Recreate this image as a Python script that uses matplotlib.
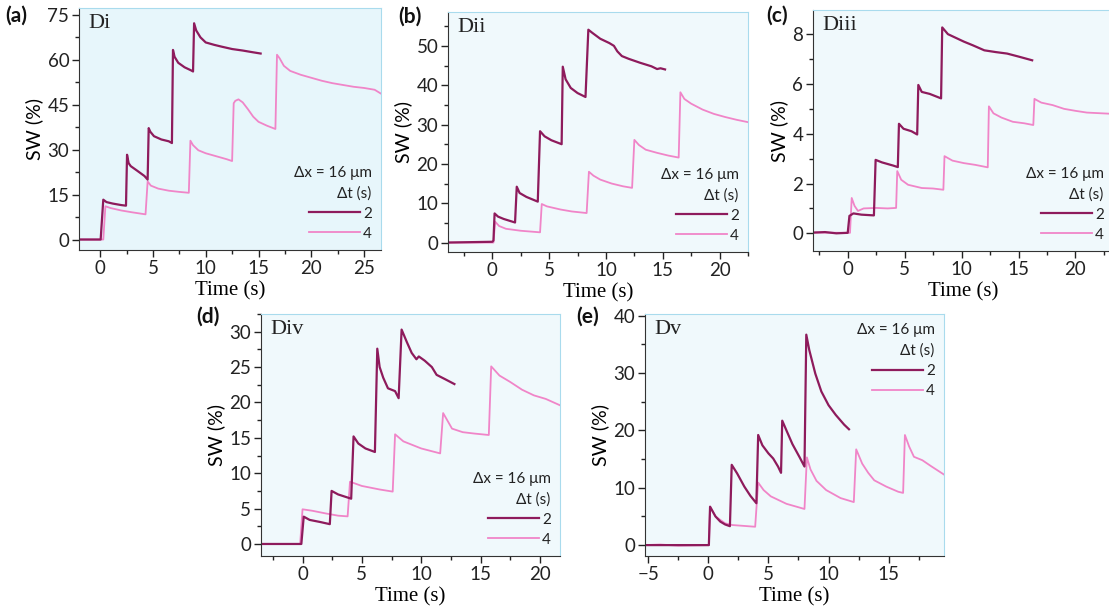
import numpy as np
import matplotlib
matplotlib.use('Agg')
import matplotlib.pyplot as plt
from matplotlib.lines import Line2D
from matplotlib.ticker import MultipleLocator

plt.rcParams['font.family'] = ['Lato', 'DejaVu Sans']

# (time s, SW %), dt = 2 s (dark) and dt = 4 s (light)
a_2 = [(-2, 0), (0.05, 0), (0.3, 13.3), (0.6, 12.5), (1.2, 12.0), (2.0, 11.5), (2.45, 11.3),
       (2.55, 28.3), (2.7, 25.5), (2.9, 24.5), (3.5, 23.0), (4.2, 21.2), (4.5, 20.0),
       (4.6, 37.2), (4.75, 36.0), (5.1, 34.5), (5.8, 33.4), (6.5, 32.8), (6.8, 32.2),
       (6.9, 63.3), (7.05, 61.0), (7.4, 59.0), (8.0, 57.5), (8.6, 56.5), (8.8, 56.1),
       (8.9, 72.2), (9.1, 69.8), (9.5, 67.5), (10.0, 65.8), (10.8, 65.0), (11.5, 64.4),
       (12.5, 63.6), (13.5, 63.1), (14.5, 62.5), (15.2, 62.1)]
a_4 = [(-2, 0), (0.3, 0), (0.5, 11.1), (1.0, 10.5), (2.0, 9.7), (3.0, 9.1), (4.3, 8.4),
       (4.5, 19.4), (4.8, 18.0), (5.5, 17.0), (6.5, 16.3), (7.5, 15.9), (8.4, 15.6),
       (8.55, 33.0), (8.8, 31.5), (9.3, 29.8), (10.0, 28.8), (11.0, 27.8), (12.0, 26.8),
       (12.5, 26.2), (12.65, 45.5), (12.8, 46.3), (13.1, 46.8), (13.5, 45.8), (14.0, 43.5),
       (14.5, 41.0), (15.0, 39.3), (15.8, 38.0), (16.6, 36.9), (16.75, 61.7), (17.0, 60.5),
       (17.4, 58.0), (18.0, 56.3), (19.0, 55.0), (20.0, 54.0), (21.0, 53.0), (22.0, 52.2),
       (23.0, 51.6), (24.0, 51.0), (25.0, 50.6), (26.0, 50.0), (26.6, 48.7)]

b_2 = [(-4, 0), (0.0, 0.2), (0.1, 0.5), (0.2, 7.4), (0.5, 6.6), (1.0, 6.0), (2.0, 5.1),
       (2.15, 14.2), (2.4, 12.6), (3.0, 11.6), (4.0, 10.4), (4.2, 28.3), (4.6, 27.0),
       (5.2, 26.0), (6.1, 25.0), (6.2, 44.7), (6.45, 41.5), (6.9, 39.3), (7.5, 38.0),
       (8.2, 37.0), (8.45, 54.1), (8.8, 53.3), (9.5, 51.8), (10.3, 50.7), (10.7, 50.0),
       (11.0, 48.6), (11.4, 47.4), (12.0, 46.7), (13.0, 45.7), (14.0, 44.8), (14.5, 44.1),
       (14.8, 44.3), (15.2, 44.0)]
b_4 = [(-4, 0), (0.1, 0), (0.25, 5.3), (0.6, 4.2), (1.2, 3.5), (2.5, 3.0), (4.2, 2.6),
       (4.35, 9.8), (4.8, 9.2), (6.0, 8.4), (7.0, 7.9), (8.3, 7.5), (8.5, 18.0), (8.9, 17.0),
       (9.5, 16.0), (10.5, 15.0), (11.5, 14.3), (12.3, 13.9), (12.5, 26.1), (12.9, 24.8),
       (13.5, 23.6), (14.5, 22.8), (15.5, 22.1), (16.4, 21.6), (16.55, 38.2), (16.9, 36.5),
       (17.5, 35.3), (18.5, 33.8), (19.5, 32.7), (20.5, 31.9), (21.5, 31.2), (22.5, 30.6)]

c_2 = [(-3, 0.03), (-2, 0.05), (-1, 0.0), (0.0, 0.02), (0.15, 0.7), (0.5, 0.8), (1.2, 0.75),
       (2.3, 0.72), (2.45, 2.95), (3.0, 2.85), (4.0, 2.72), (4.4, 2.66), (4.5, 4.4),
       (4.9, 4.2), (5.6, 4.1), (6.1, 3.97), (6.2, 5.96), (6.5, 5.68), (7.2, 5.6), (8.2, 5.42),
       (8.3, 8.27), (8.8, 8.0), (9.5, 7.85), (10.2, 7.7), (11.0, 7.55), (12.0, 7.35),
       (13.0, 7.28), (14.0, 7.22), (15.0, 7.1), (16.2, 6.95)]
c_4 = [(-3, 0.03), (0.2, 0.02), (0.35, 1.42), (0.6, 1.1), (0.9, 0.9), (1.4, 1.0), (2.5, 1.02),
       (3.5, 1.0), (4.25, 1.02), (4.35, 2.5), (4.7, 2.15), (5.3, 1.95), (6.5, 1.82),
       (7.5, 1.8), (8.4, 1.75), (8.5, 3.1), (9.2, 2.92), (10.2, 2.82), (11.2, 2.75),
       (12.3, 2.65), (12.4, 5.1), (12.8, 4.82), (13.5, 4.65), (14.5, 4.48), (15.5, 4.42),
       (16.3, 4.35), (16.4, 5.4), (17.0, 5.25), (18.0, 5.15), (19.0, 5.0), (20.0, 4.92),
       (21.0, 4.85), (23.2, 4.8)]

d_2 = [(-3.5, 0), (-0.1, 0), (0.1, 3.86), (0.6, 3.4), (1.5, 3.1), (2.3, 2.8), (2.45, 7.5),
       (3.0, 7.0), (4.1, 6.4), (4.3, 15.2), (4.7, 14.2), (5.3, 13.5), (6.1, 13.0),
       (6.3, 27.6), (6.5, 25.0), (6.8, 23.5), (7.2, 22.0), (7.8, 21.6), (8.1, 20.6),
       (8.35, 30.3), (8.8, 28.5), (9.2, 27.0), (9.6, 26.1), (9.8, 26.5), (10.3, 25.9),
       (10.9, 25.0), (11.3, 23.9), (12.0, 23.3), (12.8, 22.6)]
d_4 = [(-3.5, 0), (-0.2, 0), (0.0, 4.9), (0.8, 4.7), (2.0, 4.3), (3.0, 4.0), (3.8, 3.9),
       (4.0, 8.8), (5.0, 8.2), (6.5, 7.7), (7.6, 7.4), (7.8, 15.5), (8.5, 14.5),
       (10.0, 13.5), (11.6, 12.8), (11.85, 18.5), (12.6, 16.3), (13.5, 15.8), (14.5, 15.6),
       (15.7, 15.4), (15.9, 25.1), (16.6, 23.8), (17.5, 22.9), (18.5, 21.8), (19.5, 21.0),
       (20.5, 20.5), (21.7, 19.6)]

e_2 = [(-5.3, 0), (0.05, 0), (0.15, 6.7), (0.6, 5.0), (1.0, 4.1), (1.4, 3.6), (1.8, 3.3),
       (1.95, 14.0), (2.4, 12.5), (3.0, 10.2), (3.5, 8.6), (4.0, 7.3), (4.15, 19.2),
       (4.5, 17.4), (5.0, 16.0), (5.4, 15.1), (5.8, 13.7), (6.05, 12.6), (6.15, 21.7),
       (6.5, 20.0), (7.0, 17.6), (7.6, 15.3), (8.0, 13.7), (8.15, 36.7), (8.4, 34.0),
       (8.9, 29.9), (9.4, 26.8), (10.0, 24.4), (10.6, 22.7), (11.3, 21.0), (11.7, 20.2)]
e_4 = [(-5.3, 0), (-4.0, 0.1), (-2.5, -0.1), (0.05, 0), (0.15, 6.7), (0.6, 5.0), (1.4, 3.8),
       (2.0, 3.5), (3.9, 3.2), (4.15, 10.9), (4.6, 9.6), (5.2, 8.5), (6.5, 7.2), (8.0, 6.3),
       (8.2, 15.3), (8.5, 13.2), (9.0, 11.2), (9.8, 9.6), (11.0, 8.2), (12.1, 7.5),
       (12.3, 16.7), (12.8, 14.2), (13.3, 12.6), (13.8, 11.3), (14.8, 10.2), (15.8, 9.3),
       (16.2, 9.1), (16.35, 19.2), (16.7, 17.2), (17.1, 15.4), (17.8, 14.8), (18.5, 13.8),
       (19.6, 12.3)]

DARK = '#8e1b5c'
LIGHT = '#f085c8'
W, H = 1109, 610

# panel: tag, name, data, pixel box (left, right, top, bottom), limits, ticks, legend loc, bg, tag pos
panels = [
    ('(a)', 'Di', a_2, a_4, (79, 381, 8, 250), (-2, 26.6), (-3.5, 77.3), 5, 15, 'lower right', '#e7f6fb', (5, 16)),
    ('(b)', 'Dii', b_2, b_4, (448, 748, 12, 252), (-3.9, 22.5), (-2.4, 58.6), 5, 10, 'lower right', '#f0f9fc', (398, 17)),
    ('(c)', 'Diii', c_2, c_4, (813, 1113, 10, 251), (-3.05, 23.3), (-0.71, 8.97), 5, 2, 'lower right', '#f0f9fc', (766, 16)),
    ('(d)', 'Div', d_2, d_4, (261, 560, 314, 556), (-3.5, 21.7), (-1.7, 32.5), 5, 5, 'lower right', '#f0f9fc', (196, 317)),
    ('(e)', 'Dv', e_2, e_4, (645, 944, 314, 556), (-5.26, 19.6), (-1.9, 40.3), 5, 10, 'upper right', '#f0f9fc', (576, 317)),
]

fig = plt.figure(figsize=(W / 100, H / 100), dpi=100)

for tag, name, s2, s4, box, xl, yl, xmaj, ymaj, loc, bg, tpos in panels:
    l, r, t, b = box
    ax = fig.add_axes([l / W, 1 - b / H, (r - l) / W, (b - t) / H])
    ax.set_facecolor(bg)
    t4, y4 = np.array(s4).T
    t2, y2 = np.array(s2).T
    ax.plot(t4, y4, color=LIGHT, lw=1.3)
    ax.plot(t2, y2, color=DARK, lw=1.6)
    ax.set_xlim(*xl)
    ax.set_ylim(*yl)
    ax.xaxis.set_major_locator(MultipleLocator(xmaj))
    ax.xaxis.set_minor_locator(MultipleLocator(xmaj / 2))
    ax.yaxis.set_major_locator(MultipleLocator(ymaj))
    ax.yaxis.set_minor_locator(MultipleLocator(ymaj / 2))
    ax.tick_params(which='major', direction='out', length=5, width=1, labelsize=13.5,
                   colors='#222222', pad=2)
    ax.tick_params(which='minor', direction='out', length=3, width=1, colors='#222222')
    for side in ('left', 'bottom'):
        ax.spines[side].set_color('#333333')
    for side in ('top', 'right'):
        ax.spines[side].set_color('#a9dbed')
    ax.set_xlabel('Time (s)', family=['Liberation Serif'], fontsize=15, labelpad=3)
    ax.set_ylabel('SW (%)', fontsize=14, labelpad=3)
    ax.text(0.03, 0.975, name, transform=ax.transAxes, ha='left', va='top',
            family=['Liberation Serif'], fontsize=16, color='#222222')
    fig.text(tpos[0] / W, 1 - tpos[1] / H, tag, fontsize=15, fontweight='bold',
             ha='left', va='center', color='#111111')

    handles = [Line2D([], [], color=DARK, lw=1.6), Line2D([], [], color=LIGHT, lw=1.3)]
    leg = ax.legend(handles, ['2', '4'], title='\u0394x = 16 \u03bcm\n\u0394t (s)',
                    loc=loc, frameon=False, fontsize=11, title_fontsize=11,
                    handlelength=3.3, handletextpad=0.2, labelspacing=0.4,
                    alignment='right', borderaxespad=0.3, borderpad=0.3)
    leg.get_title().set_multialignment('right')
    leg.get_title().set_linespacing(1.55)
    leg.get_title().set_color('#222222')
    for txt in leg.get_texts():
        txt.set_color('#222222')

fig.savefig('out.png', dpi=100)
